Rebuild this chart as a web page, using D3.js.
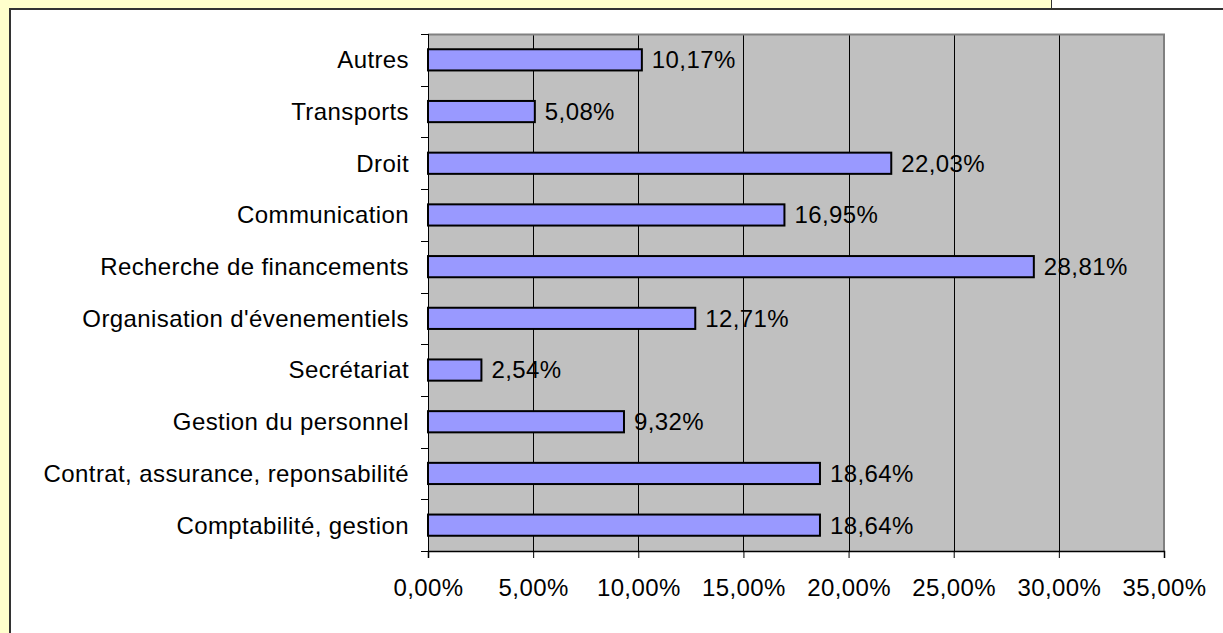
<!DOCTYPE html>
<html>
<head>
<meta charset="utf-8">
<script src="https://cdn.jsdelivr.net/npm/d3@7"></script>
<style>
  body { margin: 0; background: #ffffcc; }
  text { font-family: "Liberation Sans", Arial, sans-serif; }
</style>
</head>
<body>
<div id="vis"></div>
<script>
// categories top to bottom, as in the picture
let categories = ["Autres", "Transports", "Droit", "Communication", "Recherche de financements",
  "Organisation d'évenementiels", "Secrétariat", "Gestion du personnel",
  "Contrat, assurance, reponsabilité", "Comptabilité, gestion"];
let values = [10.17, 5.08, 22.03, 16.95, 28.81, 12.71, 2.54, 9.32, 18.64, 18.64];
let xTicks = [0, 5, 10, 15, 20, 25, 30, 35];

let W = 1223, H = 633;
let plot = {left: 428, top: 34, right: 1164, bottom: 551};
let fontSize = 24, spacing = 0.4;

let svg = d3.select('#vis')
  .append('svg')
  .attr('width', W)
  .attr('height', H)
  .style('display', 'block');

// page background pieces
svg.append('rect').attr('x', 0).attr('y', 0).attr('width', W).attr('height', H).attr('fill', '#ffffcc');
svg.append('rect').attr('x', 1051).attr('y', 0).attr('width', W - 1051).attr('height', 9).attr('fill', 'white');
svg.append('line').attr('x1', 1051.5).attr('x2', 1051.5).attr('y1', 0).attr('y2', 9)
  .attr('stroke', '#333').attr('stroke-width', 1);

// chart box
svg.append('rect')
  .attr('x', 10).attr('y', 9)
  .attr('width', W + 20).attr('height', H + 20)
  .attr('fill', 'white')
  .attr('stroke', '#333')
  .attr('stroke-width', 2);

let x = d3.scaleLinear().domain([0, 35]).range([plot.left, plot.right]);
let y = d3.scaleBand().domain(categories).range([plot.top, plot.bottom]).paddingInner(0.59).paddingOuter(0.295);
let yBand = d3.scaleBand().domain(categories).range([plot.top, plot.bottom]);

// plot area
svg.append('rect')
  .attr('x', plot.left).attr('y', plot.top)
  .attr('width', plot.right - plot.left).attr('height', plot.bottom - plot.top)
  .attr('fill', '#c0c0c0');

// gridlines
svg.append('g')
  .selectAll('line')
  .data(xTicks.slice(1, -1))
  .join('line')
  .attr('x1', d => Math.round(x(d)) + 0.5)
  .attr('x2', d => Math.round(x(d)) + 0.5)
  .attr('y1', plot.top)
  .attr('y2', plot.bottom)
  .attr('stroke', '#000')
  .attr('stroke-width', 1);

// plot border top/right (gray)
svg.append('path')
  .attr('d', `M${plot.left},${plot.top + 0.5}H${plot.right}V${plot.bottom}`)
  .attr('fill', 'none')
  .attr('stroke', '#808080')
  .attr('stroke-width', 2);

// bars
svg.append('g')
  .selectAll('rect')
  .data(values)
  .join('rect')
  .attr('x', x(0))
  .attr('y', (d, i) => y(categories[i]))
  .attr('width', d => x(d) - x(0))
  .attr('height', y.bandwidth())
  .attr('fill', '#9999ff')
  .attr('stroke', '#000')
  .attr('stroke-width', 2);

// value labels
svg.append('g')
  .selectAll('text')
  .data(values)
  .join('text')
  .attr('x', d => x(d) + 10)
  .attr('y', (d, i) => y(categories[i]) + y.bandwidth() / 2)
  .attr('dy', '0.35em')
  .attr('font-size', fontSize)
  .attr('letter-spacing', spacing)
  .attr('fill', '#000')
  .text(d => d.toFixed(2).replace('.', ',') + '%');

// y axis
let yAxis = svg.append('g').attr('transform', `translate(${plot.left},0)`);
yAxis.append('line')
  .attr('x1', 0.5).attr('x2', 0.5).attr('y1', plot.top).attr('y2', plot.bottom)
  .attr('stroke', '#000');
yAxis.selectAll('line.tk')
  .data(categories.concat(['end']))
  .join('line')
  .attr('class', 'tk')
  .attr('x1', -7).attr('x2', 0)
  .attr('y1', (d, i) => Math.round(plot.top + i * yBand.step()) + 0.5)
  .attr('y2', (d, i) => Math.round(plot.top + i * yBand.step()) + 0.5)
  .attr('stroke', '#000');
yAxis.selectAll('text')
  .data(categories)
  .join('text')
  .attr('x', -19)
  .attr('y', d => yBand(d) + yBand.bandwidth() / 2)
  .attr('dy', '0.35em')
  .attr('text-anchor', 'end')
  .attr('font-size', fontSize)
  .attr('letter-spacing', spacing)
  .text(d => d);

// x axis
let xAxis = d3.axisBottom(x)
  .tickValues(xTicks)
  .tickSize(7)
  .tickFormat(d => d.toFixed(2).replace('.', ',') + '%');
let gx = svg.append('g')
  .attr('transform', `translate(0,${plot.bottom})`)
  .call(xAxis);
gx.select('.domain').attr('stroke', '#000').attr('stroke-width', 1.5);
gx.selectAll('.tick line').attr('stroke', '#000');
gx.selectAll('.tick text')
  .attr('font-size', fontSize)
  .attr('letter-spacing', spacing)
  .attr('font-family', '"Liberation Sans", Arial, sans-serif')
  .attr('fill', '#000')
  .attr('dy', 0)
  .attr('y', 45);
</script>
</body>
</html>
